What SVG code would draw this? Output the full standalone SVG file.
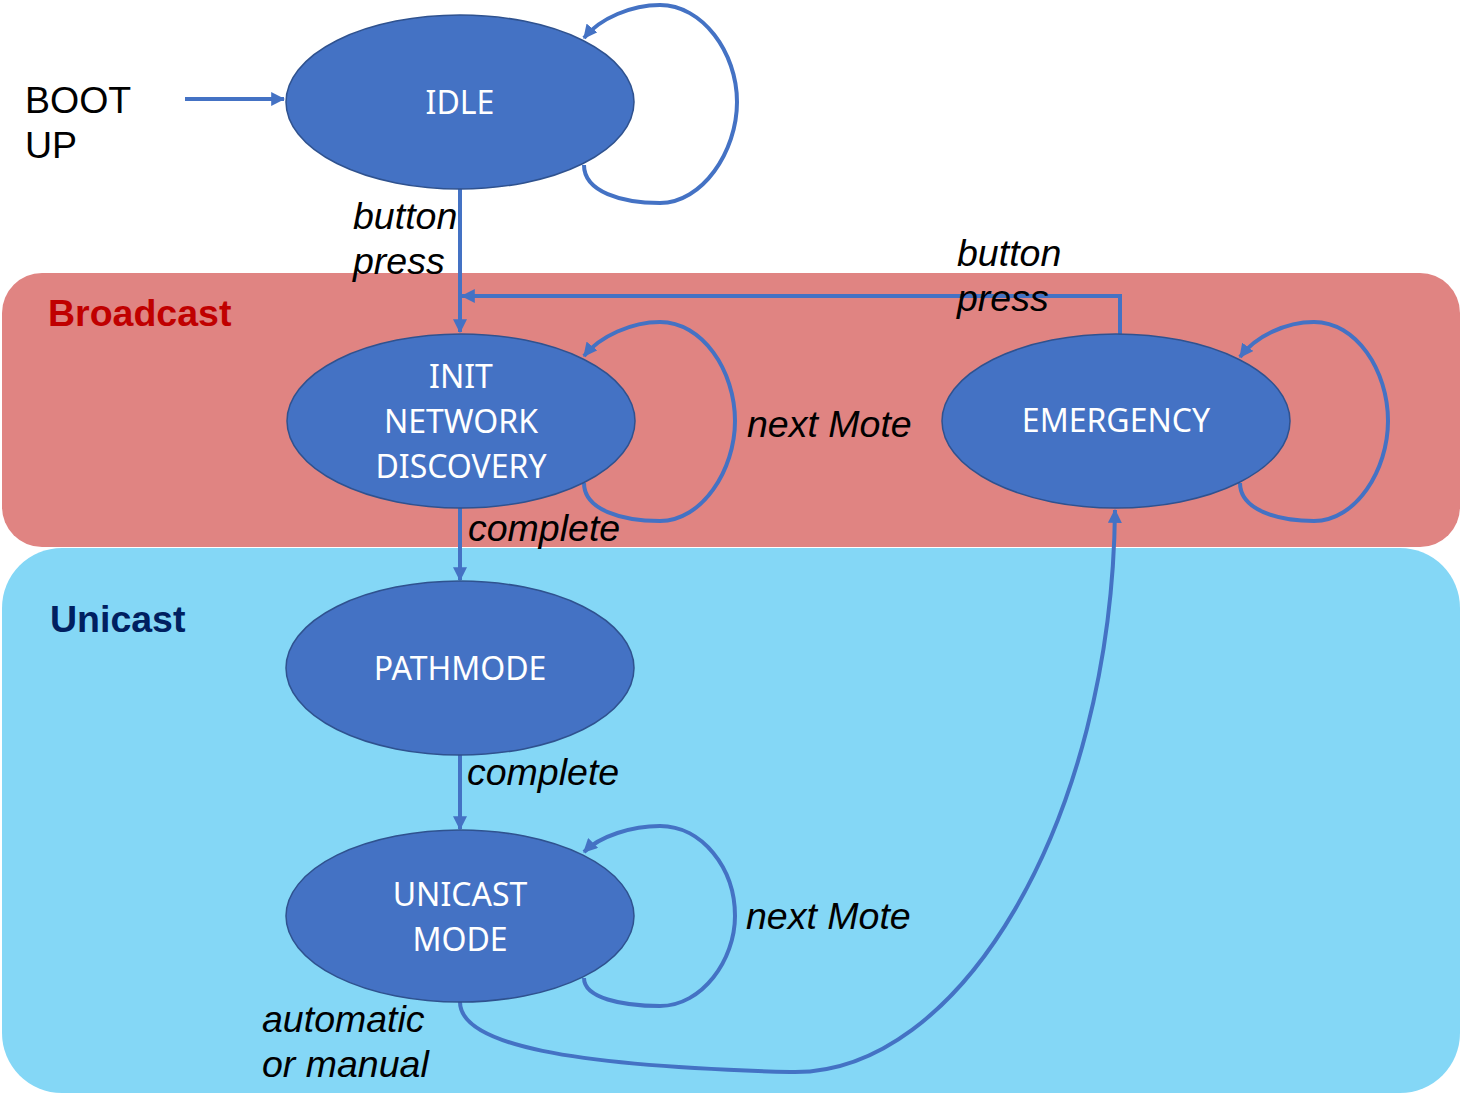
<svg xmlns="http://www.w3.org/2000/svg" width="1460" height="1108" viewBox="0 0 1460 1108">
<style>
.node{fill:#4472C4;stroke:#2F528F;stroke-width:1.5}
.nt{font-family:"Noto Sans","Open Sans",sans-serif;font-size:32px;fill:#fff;text-anchor:middle}
.c{fill:none;stroke:#4472C4;stroke-width:4}
.lab{font-family:"Liberation Sans",Arial,sans-serif;font-size:37.5px;font-style:italic;fill:#000}
</style>
<defs>
<marker id="ah" viewBox="0 0 12 12" refX="11" refY="6" markerWidth="14" markerHeight="14" markerUnits="userSpaceOnUse" orient="auto">
<path d="M0,0 L12,6 L0,12 Z" fill="#4472C4"/>
</marker>
</defs>
<g id="regions">
<rect x="2" y="273" width="1458" height="274" rx="40" fill="#E08482"/>
<rect x="2" y="548" width="1458" height="545" rx="60" fill="#84D7F6"/>
<text x="48" y="326" font-family="Liberation Sans,Arial,sans-serif" font-size="37.5" font-weight="bold" fill="#C00000">Broadcast</text>
<text x="50" y="632" font-family="Liberation Sans,Arial,sans-serif" font-size="37.5" font-weight="bold" fill="#002060">Unicast</text>
</g>
<g id="boot">
<text x="25" y="113" font-family="Liberation Sans,Arial,sans-serif" font-size="37.5">BOOT</text>
<text x="25" y="158" font-family="Liberation Sans,Arial,sans-serif" font-size="37.5">UP</text>
</g>
<g id="connectors">
<path class="c" d="M185,99 L284,99" marker-end="url(#ah)"/>
<path class="c" d="M460,189 L460,332" marker-end="url(#ah)"/>
<path class="c" d="M1120,334 L1120,296 L462,296" marker-end="url(#ah)"/>
<path class="c" d="M460,508 L460,580" marker-end="url(#ah)"/>
<path class="c" d="M460,755 L460,829" marker-end="url(#ah)"/>
<path class="c" d="M460,1002 C460,1045 570,1066 790,1072 C960,1077 1112,820 1115,510" marker-end="url(#ah)"/>
<path class="c" d="M584,165 C584,192 622,203 660,203 C702,203 737,152 737,102 C737,52 702,5 660,5 C632,5 600,18 584,38" marker-end="url(#ah)"/>
<path class="c" d="M584,483 C584,510 622,521 660,521 C702,521 735,470 735,421 C735,370 702,322 660,322 C632,322 600,336 584,356" marker-end="url(#ah)"/>
<path class="c" d="M1240,483 C1240,510 1278,521 1314,521 C1356,521 1388,470 1388,421 C1388,370 1356,322 1314,322 C1286,322 1256,336 1240,357" marker-end="url(#ah)"/>
<path class="c" d="M584,978 C584,998 622,1006 660,1006 C702,1006 735,960 735,916 C735,868 702,826 660,826 C632,826 600,836 584,852" marker-end="url(#ah)"/>
</g>
<g id="labels">
<text class="lab" x="353" y="229">button</text>
<text class="lab" x="353" y="274">press</text>
<text class="lab" x="957" y="266">button</text>
<text class="lab" x="957" y="311">press</text>
<text class="lab" x="747" y="437">next Mote</text>
<text class="lab" x="468" y="541">complete</text>
<text class="lab" x="467" y="785">complete</text>
<text class="lab" x="746" y="929">next Mote</text>
<text class="lab" x="262" y="1032">automatic</text>
<text class="lab" x="262" y="1077">or manual</text>
</g>
<g id="idle">
<ellipse class="node" cx="460" cy="102" rx="174" ry="87"/>
<text class="nt" x="460" y="114">IDLE</text>
</g>
<g id="init">
<ellipse class="node" cx="461" cy="421" rx="174" ry="87"/>
<text class="nt" x="461" y="388">INIT</text>
<text class="nt" x="461" y="433">NETWORK</text>
<text class="nt" x="461" y="478">DISCOVERY</text>
</g>
<g id="emergency">
<ellipse class="node" cx="1116" cy="421" rx="174" ry="87"/>
<text class="nt" x="1116" y="432">EMERGENCY</text>
</g>
<g id="pathmode">
<ellipse class="node" cx="460" cy="668" rx="174" ry="87"/>
<text class="nt" x="460" y="680">PATHMODE</text>
</g>
<g id="unicast">
<ellipse class="node" cx="460" cy="916" rx="174" ry="86"/>
<text class="nt" x="460" y="906">UNICAST</text>
<text class="nt" x="460" y="951">MODE</text>
</g>
</svg>
